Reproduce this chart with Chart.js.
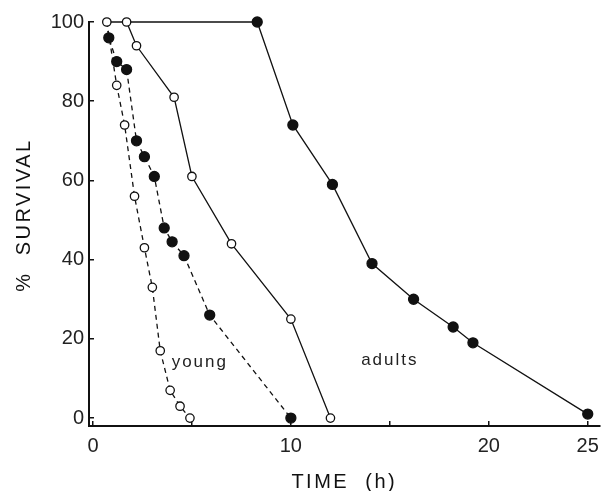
<!DOCTYPE html>
<html>
<head>
<meta charset="utf-8">
<script src="https://cdn.jsdelivr.net/npm/chart.js@4/dist/chart.umd.min.js"></script>
<style>
  html, body { margin: 0; padding: 0; background: #fff; }
  #survivalChart { display: block; }
</style>
</head>
<body>
<canvas id="survivalChart" width="612" height="491"></canvas>
<script>
// ===== Data =====
const xTicks = [0, 5, 10, 15, 20, 25];
const xTickLabels = { 0: '0', 10: '10', 20: '20', 25: '25' };
const yTicks = [0, 20, 40, 60, 80, 100];

// adults, open circles (solid line)
const adultOpenX = [0.7, 1.7, 2.2, 4.1, 5.0, 7.0, 10.0, 12.0];
const adultOpenY = [100, 100, 94, 81, 61, 44, 25, 0];

// adults, filled circles (solid line)
const adultFilledX = [1.7, 8.3, 10.1, 12.1, 14.1, 16.2, 18.2, 19.2, 25.0];
const adultFilledY = [100, 100, 74, 59, 39, 30, 23, 19, 1];

// young, open circles (dashed line)
const youngOpenX = [0.7, 1.2, 1.6, 2.1, 2.6, 3.0, 3.4, 3.9, 4.4, 4.9];
const youngOpenY = [100, 84, 74, 56, 43, 33, 17, 7, 3, 0];

// young, filled circles (dashed line)
const youngFilledX = [0.7, 0.8, 1.2, 1.7, 2.2, 2.6, 3.1, 3.6, 4.0, 4.6, 5.9, 10.0];
const youngFilledY = [100, 96, 90, 88, 70, 66, 61, 48, 44.5, 41, 26, 0];

// in-plot labels: [text, x, y]
const curveLabels = [
  ['young', 5.4, 14],
  ['adults', 15.0, 14.5]
];

const xTitle = 'TIME  (h)';
const yTitle = '%  SURVIVAL';

// ===== Helpers =====
const INK = '#111';
const FONT = "'Liberation Sans', Arial, Helvetica, sans-serif";

function toPoints(xs, ys) {
  return xs.map((x, i) => ({ x, y: ys[i] }));
}

// first point is shared with another curve, so hide its marker
function radii(n, r) {
  return Array.from({ length: n }, (_, i) => (i === 0 ? 0 : r));
}

function series(xs, ys, filled, dashed, hideFirst) {
  const r = filled ? 5 : 4.2;
  return {
    data: toPoints(xs, ys),
    showLine: true,
    borderColor: INK,
    borderWidth: 1.3,
    borderDash: dashed ? [5, 4] : [],
    pointBackgroundColor: filled ? INK : '#fff',
    pointBorderColor: INK,
    pointBorderWidth: 1.3,
    pointRadius: hideFirst ? radii(xs.length, r) : r,
    clip: false
  };
}

// ===== Plugin: spaced text (curve labels + axis titles) =====
const spacedTextPlugin = {
  id: 'spacedText',
  afterDraw(chart) {
    const { ctx, chartArea, scales: { x, y } } = chart;
    ctx.save();
    ctx.textAlign = 'center';
    ctx.textBaseline = 'middle';

    // curve labels
    ctx.fillStyle = '#222';
    ctx.font = '17px ' + FONT;
    ctx.letterSpacing = '2px';
    curveLabels.forEach(([text, vx, vy]) => {
      ctx.fillText(text, x.getPixelForValue(vx), y.getPixelForValue(vy));
    });

    // axis titles
    ctx.fillStyle = INK;
    ctx.font = '20px ' + FONT;
    ctx.letterSpacing = '2.5px';
    ctx.fillText(xTitle, (chartArea.left + chartArea.right) / 2, 482);

    ctx.translate(24, 215);
    ctx.rotate(-Math.PI / 2);
    ctx.fillText(yTitle, 0, 0);
    ctx.restore();
  }
};

// ===== Chart =====
const ctx = document.getElementById('survivalChart').getContext('2d');

new Chart(ctx, {
  type: 'scatter',
  data: {
    datasets: [
      series(adultOpenX, adultOpenY, false, false, false),
      series(adultFilledX, adultFilledY, true, false, true),
      series(youngOpenX, youngOpenY, false, true, true),
      series(youngFilledX, youngFilledY, true, true, true)
    ]
  },
  options: {
    responsive: false,
    animation: false,
    devicePixelRatio: 1,
    layout: { padding: { top: 18, right: 2, left: 0, bottom: 0 } },
    plugins: {
      legend: { display: false },
      tooltip: { enabled: false }
    },
    scales: {
      x: {
        type: 'linear',
        min: -0.2,
        max: 25.6,
        afterBuildTicks: (scale) => { scale.ticks = xTicks.map(v => ({ value: v })); },
        afterFit: (scale) => { scale.height = 65; },
        border: { display: true, color: INK, width: 2 },
        grid: { drawOnChartArea: false, drawTicks: true, tickLength: -5, color: INK, lineWidth: 1.5 },
        ticks: {
          color: '#222',
          padding: 13,
          maxRotation: 0,
          font: { family: FONT, size: 20 },
          callback: (v) => xTickLabels[v] || ''
        }
      },
      y: {
        type: 'linear',
        min: -2,
        max: 100,
        afterBuildTicks: (scale) => { scale.ticks = yTicks.map(v => ({ value: v })); },
        afterFit: (scale) => { scale.width = 89; },
        border: { display: true, color: INK, width: 2 },
        grid: { drawOnChartArea: false, drawTicks: true, tickLength: -5, color: INK, lineWidth: 1.5 },
        ticks: {
          color: '#222',
          padding: 10,
          font: { family: FONT, size: 20 }
        }
      }
    }
  },
  plugins: [spacedTextPlugin]
});
</script>
</body>
</html>
